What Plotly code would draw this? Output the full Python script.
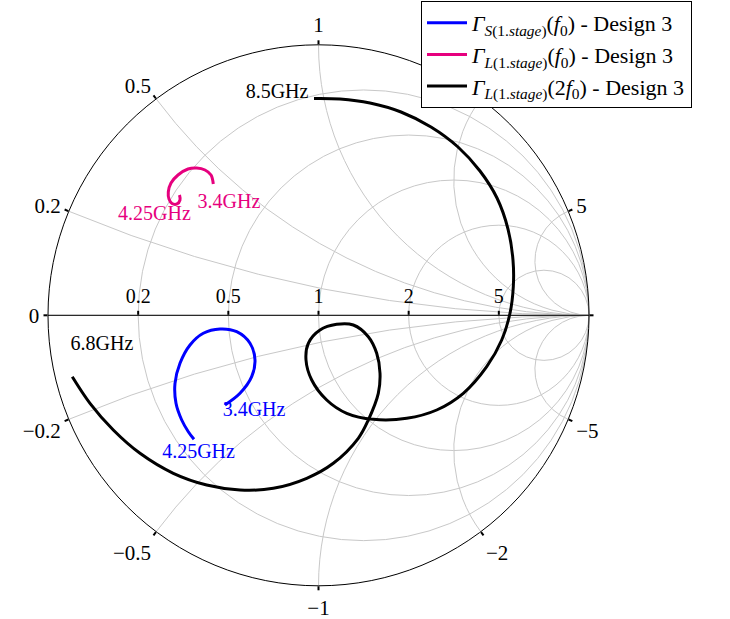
import numpy as np
import plotly.graph_objects as go

blue_re = [-0.3457, -0.2902, -0.2470, -0.2348, -0.2532, -0.3024, -0.3641, -0.4259,
           -0.4750, -0.5120, -0.5305, -0.5268, -0.5057, -0.4813, -0.4603]
blue_im = [-0.3316, -0.2884, -0.2270, -0.1653, -0.1035, -0.0606, -0.0506, -0.0665,
           -0.1098, -0.1774, -0.2514, -0.3253, -0.3871, -0.4303, -0.4584]

pink_re = [-0.3889, -0.3974, -0.4196, -0.4503, -0.4824, -0.5194, -0.5453, -0.5553,
           -0.5527, -0.5416, -0.5231, -0.5120, -0.5139]
pink_im = [0.4854, 0.5187, 0.5372, 0.5445, 0.5408, 0.5187, 0.4891, 0.4558,
           0.4299, 0.4133, 0.4115, 0.4262, 0.4447]

black_re = [-0.9102, -0.8447, -0.7586, -0.6599, -0.5368, -0.4133, -0.2902, -0.1671,
            -0.0436, 0.0547, 0.1471, 0.1841, 0.2211, 0.2274, 0.2152, 0.1841,
            0.1287, 0.0673, 0.0055, -0.0377, -0.0462, -0.0251, 0.0303, 0.1043,
            0.2026, 0.3261, 0.4370, 0.5353, 0.6218, 0.6773, 0.7079, 0.7202,
            0.7190, 0.7006, 0.6599, 0.5970, 0.5157, 0.4159, 0.3050, 0.1904,
            0.0795, -0.0166]
black_im = [-0.2270, -0.3253, -0.4240, -0.5102, -0.5841, -0.6274, -0.6458, -0.6396,
            -0.6026, -0.5471, -0.4547, -0.3871, -0.2884, -0.2144, -0.1405, -0.0791,
            -0.0359, -0.0333, -0.0543, -0.1035, -0.1653, -0.2392, -0.3131, -0.3623,
            -0.3845, -0.3808, -0.3501, -0.2884, -0.1900, -0.0913, 0.0074, 0.1057,
            0.2044, 0.3190, 0.4336, 0.5335, 0.6222, 0.6961, 0.7516, 0.7848,
            0.7996, 0.8015]

series_names = [
    "<i>Γ</i><sub><i>S</i>(1.<i>stage</i>)</sub>(<i>f</i><sub>0</sub>) - Design 3",
    "<i>Γ</i><sub><i>L</i>(1.<i>stage</i>)</sub>(<i>f</i><sub>0</sub>) - Design 3",
    "<i>Γ</i><sub><i>L</i>(1.<i>stage</i>)</sub>(2<i>f</i><sub>0</sub>) - Design 3",
]
series_colors = ["#0000FF", "#E6007E", "#000000"]

# frequency labels (text, colour, label centre as Gamma)
freq_labels = ["3.4GHz", "4.25GHz", "3.4GHz", "4.25GHz", "6.8GHz", "8.5GHz"]
label_colors = ["#0000FF", "#0000FF", "#E6007E", "#E6007E", "#000000", "#000000"]
label_re = [-0.2384, -0.4436, -0.3309, -0.6063, -0.8004, -0.1534]
label_im = [-0.3538, -0.5091, 0.4152, 0.3708, -0.1098, 0.8218]

real_ticks = [0.2, 0.5, 1, 2, 5]
imag_ticks = [-5, -2, -1, -0.5, -0.2, 0, 0.2, 0.5, 1, 2, 5]

SERIF = "Liberation Serif"


def to_z(re, im):
    g = np.array(re) + 1j * np.array(im)
    z = (1 + g) / (1 - g)
    return z.real, z.imag


fig = go.Figure()
for (re, im), name, col in zip([(blue_re, blue_im), (pink_re, pink_im), (black_re, black_im)],
                               series_names, series_colors):
    zr, zi = to_z(re, im)
    fig.add_trace(go.Scattersmith(real=zr, imag=zi, mode="lines", name=name,
                                  line=dict(color=col, width=3, shape="spline", smoothing=1)))

for t, c, r, i in zip(freq_labels, label_colors, label_re, label_im):
    zr, zi = to_z([r], [i])
    fig.add_trace(go.Scattersmith(real=zr, imag=zi, mode="text", text=[t],
                                  textposition="middle center", showlegend=False,
                                  hoverinfo="skip",
                                  textfont=dict(family=SERIF, size=20, color=c)))

W, H = 730, 619
cx, cy, R = 318.5, 315.3, 270.5
fig.update_layout(
    width=W, height=H,
    margin=dict(l=0, r=0, t=0, b=0),
    paper_bgcolor="white",
    font=dict(family=SERIF, color="black"),
    smith=dict(
        domain=dict(x=[(cx - R) / W, (cx + R) / W], y=[1 - (cy + R) / H, 1 - (cy - R) / H]),
        bgcolor="white",
        realaxis=dict(tickvals=real_ticks, gridcolor="#c8c8c8", gridwidth=1,
                      linecolor="black", linewidth=1, ticks="top", ticklen=4,
                      tickcolor="black", side="top", tickangle=0,
                      tickfont=dict(family=SERIF, size=20, color="black")),
        imaginaryaxis=dict(tickvals=imag_ticks, gridcolor="#c8c8c8", gridwidth=1,
                           linecolor="black", linewidth=1, ticks="outside", ticklen=4,
                           tickcolor="black",
                           tickfont=dict(family=SERIF, size=21, color="black")),
    ),
    legend=dict(x=421 / W, y=1 - 1 / H, xanchor="left", yanchor="top",
                bordercolor="black", borderwidth=1, bgcolor="white",
                font=dict(family=SERIF, size=22, color="black"),
                itemwidth=40, tracegroupgap=0),
    # hide the automatic infinity label that the reference does not show
    shapes=[dict(type="rect", xref="paper", yref="paper",
                 x0=(cx + R + 5) / W, x1=(cx + R + 45) / W,
                 y0=1 - (cy + 16) / H, y1=1 - (cy - 16) / H,
                 fillcolor="white", line=dict(width=0), layer="above")],
)

fig.write_html("out.html")
